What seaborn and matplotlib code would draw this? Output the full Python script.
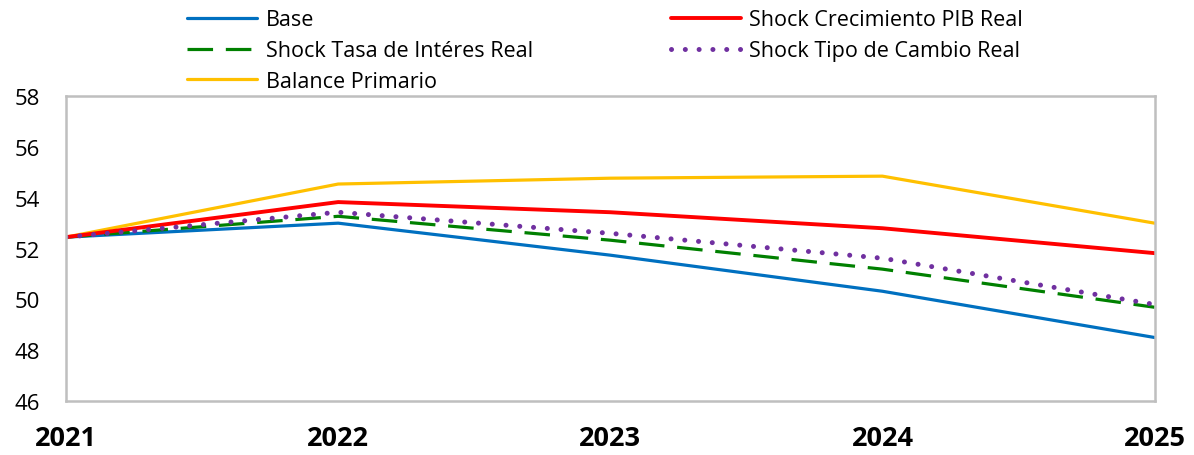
import matplotlib
matplotlib.use("Agg")
import matplotlib.pyplot as plt
import seaborn as sns
import pandas as pd

years = [2021, 2022, 2023, 2024, 2025]
base = [52.45, 53.00, 51.74, 50.32, 48.50]
shock_pib = [52.45, 53.83, 53.43, 52.80, 51.82]
shock_tasa = [52.45, 53.27, 52.33, 51.19, 49.69]
shock_tipo = [52.45, 53.43, 52.60, 51.62, 49.80]
balance = [52.45, 54.54, 54.77, 54.85, 53.00]

y_ticks = [46, 48, 50, 52, 54, 56, 58]

sns.set_theme(style="white")
plt.rcParams["font.family"] = ["Open Sans", "DejaVu Sans"]
plt.rcParams["text.color"] = "black"

fig = plt.figure(figsize=(11.94, 4.56), dpi=100)
ax = fig.add_axes([0.0553, 0.1184, 0.9117, 0.6686])

series = [
    ("Base", base, dict(color="#0070C0", lw=2.3)),
    ("Shock Tasa de Intéres Real", shock_tasa,
     dict(color="#008000", lw=2.3, dashes=(8, 4))),
    ("Balance Primario", balance, dict(color="#FFC000", lw=2.3)),
    ("Shock Crecimiento PIB Real", shock_pib, dict(color="#FF0000", lw=2.8)),
    ("Shock Tipo de Cambio Real", shock_tipo,
     dict(color="#7030A0", lw=3.6, dashes=(0.01, 2.75))),
]

for name, vals, style in series:
    df = pd.DataFrame({"year": years, "value": vals})
    dashes = style.get("dashes")
    sns.lineplot(data=df, x="year", y="value", ax=ax, label=name,
                 color=style["color"], linewidth=style["lw"])
    line = ax.lines[-1]
    if dashes is not None:
        line.set_dashes(dashes)
        line.set_dash_capstyle("round" if dashes[0] < 1 else "butt")

ax.set_xlim(years[0], years[-1])
ax.set_ylim(46, 58)
ax.set_xticks(years)
ax.set_xticklabels([str(y) for y in years], fontsize=19.5, fontweight="bold")
ax.set_yticks(y_ticks)
ax.set_yticklabels([str(t) for t in y_ticks], fontsize=16)
ax.set_xlabel("")
ax.set_ylabel("")

for sp in ax.spines.values():
    sp.set_visible(True)
    sp.set_color("#BFBFBF")
    sp.set_linewidth(1.8)

ax.tick_params(axis="both", which="both", direction="out", length=6.5,
               width=1.8, color="#BFBFBF", labelcolor="black")
ax.tick_params(axis="x", pad=10.5)
ax.tick_params(axis="y", pad=12)

handles, labels = ax.get_legend_handles_labels()
ax.get_legend().remove()
fig.legend(handles, labels, ncol=2, loc="upper left",
           bbox_to_anchor=(0.155, 0.982), frameon=False, fontsize=15.5,
           handlelength=3.25, handletextpad=0.4, columnspacing=6.4,
           labelspacing=0.45, borderpad=0.1, borderaxespad=0,
           labelcolor="black")

fig.savefig("out.png", dpi=100, facecolor="white")
